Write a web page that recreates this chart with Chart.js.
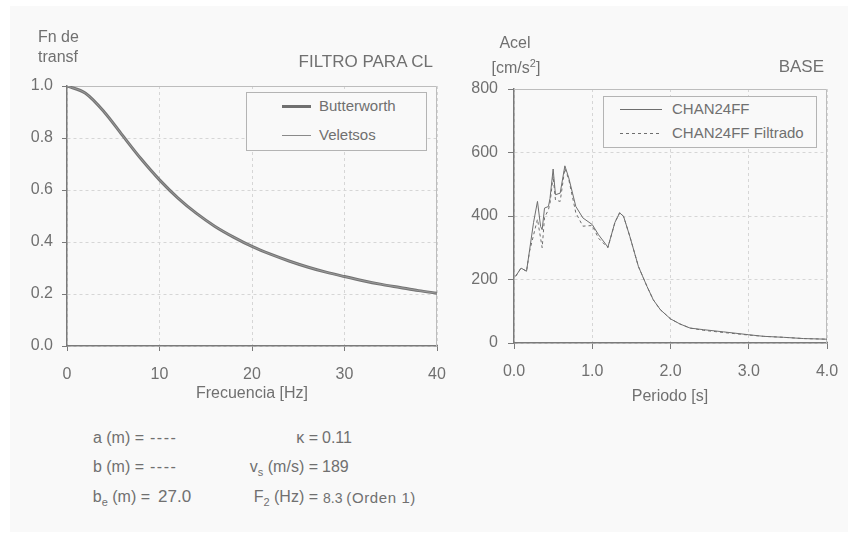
<!DOCTYPE html>
<html><head><meta charset="utf-8">
<script src="https://cdn.jsdelivr.net/npm/chart.js@4.4.1/dist/chart.umd.min.js"></script>
<style>
html,body{margin:0;padding:0;background:#fff;width:854px;height:540px;overflow:hidden;}
#panel{position:absolute;left:10px;top:6px;width:838px;height:526px;background:#f9f9f9;}
canvas{position:absolute;}
.t{position:absolute;white-space:nowrap;font-family:'Liberation Sans',Arial,sans-serif;font-size:16px;line-height:20px;color:#707070;}
.c{text-align:center;width:200px;}
.r{text-align:right;}
.leg{position:absolute;border:1px solid #b4b4b4;background:#f9f9f9;box-sizing:border-box;}
.smp{position:absolute;}
.lt{position:absolute;white-space:nowrap;font-family:'Liberation Sans',Arial,sans-serif;font-size:15px;line-height:20px;color:#707070;}
sub,sup{font-size:11px;line-height:0;}
</style></head>
<body>
<div id="panel"></div>
<canvas id="c1" width="460" height="420" style="left:0;top:0;width:460px;height:420px"></canvas>
<canvas id="c2" width="394" height="420" style="left:460px;top:0;width:394px;height:420px"></canvas>

<div class="t" style="left:38px;top:27px">Fn de</div>
<div class="t" style="left:38px;top:47px">transf</div>
<div class="t r" style="right:421px;top:52px;font-size:17px">FILTRO PARA CL</div>
<div class="t c" style="left:415px;top:33px">Acel</div>
<div class="t c" style="left:416px;top:58px">[cm/s<sup>2</sup>]</div>
<div class="t r" style="right:30px;top:57px;font-size:17px">BASE</div>
<div class="t c" style="left:152px;top:383px">Frecuencia [Hz]</div>
<div class="t c" style="left:570px;top:386px">Periodo [s]</div>

<div class="t r" style="right:710px;top:428px">a (m) =</div>
<div class="t" style="left:150px;top:428px;letter-spacing:1.5px">----</div>
<div class="t r" style="right:710px;top:457px">b (m) =</div>
<div class="t" style="left:150px;top:457px;letter-spacing:1.5px">----</div>
<div class="t r" style="right:704px;top:487px">b<sub>e</sub> (m) =</div>
<div class="t" style="left:158px;top:487px;font-size:17px">27.0</div>

<div class="t r" style="right:536px;top:428px">&#954; =</div>
<div class="t" style="left:322px;top:428px">0.11</div>
<div class="t r" style="right:536px;top:457px">v<sub>s</sub> (m/s) =</div>
<div class="t" style="left:322px;top:457px">189</div>
<div class="t r" style="right:536px;top:487px">F<sub>2</sub> (Hz) =</div>
<div class="t" style="left:323px;top:488px;font-size:14px">8.3 <span style="font-size:15px;letter-spacing:0.6px">(Orden 1)</span></div>

<div class="leg" style="left:246px;top:92px;width:181px;height:59px">
  <div class="smp" style="left:35px;top:12px;width:29px;height:3px;background:#707070"></div>
  <div class="lt" style="left:72px;top:3px">Butterworth</div>
  <div class="smp" style="left:35px;top:42px;width:29px;height:1px;background:#8a8a8a"></div>
  <div class="lt" style="left:72px;top:32px">Veletsos</div>
</div>
<div class="leg" style="left:603px;top:96px;width:214px;height:52px">
  <div class="smp" style="left:16px;top:12px;width:42px;height:1px;background:#6e6e6e"></div>
  <div class="lt" style="left:68px;top:2px">CHAN24FF</div>
  <div class="smp" style="left:16px;top:36px;width:42px;height:1px;background:repeating-linear-gradient(90deg,#6e6e6e 0 3px,transparent 3px 6px)"></div>
  <div class="lt" style="left:68px;top:26px">CHAN24FF Filtrado</div>
</div>

<script>
// ---- Data: transfer function (left chart)
const frequencies = [0,2,4,6,8,10,12,14,16,18,20,22,24,26,28,30,32,34,36,38,40];
const butterworth = [1.0,0.972,0.901,0.810,0.720,0.639,0.569,0.510,0.460,0.419,0.383,0.353,0.327,0.304,0.284,0.267,0.251,0.237,0.225,0.213,0.203];
const veletsos    = [1.0,0.972,0.901,0.810,0.720,0.639,0.569,0.510,0.460,0.419,0.383,0.353,0.327,0.304,0.284,0.267,0.251,0.237,0.225,0.213,0.203];

// ---- Data: response spectrum (right chart)
const periods  = [0.02,0.09,0.16,0.2,0.25,0.3,0.34,0.36,0.39,0.44,0.46,0.5,0.53,0.59,0.65,0.7,0.79,0.88,1.0,1.08,1.2,1.29,1.35,1.4,1.48,1.59,1.7,1.78,1.87,2.0,2.12,2.25,2.42,2.68,3.0,3.19,3.44,3.7,4.0];
const chan24ff = [210,236,226,294,380,446,367,357,425,430,455,548,467,472,558,520,430,394,373,341,302,380,410,399,336,241,178,136,105,76,60,47,42,35,26,21,18,14,12];
const chan24ffFiltrado = [210,236,226,290,340,390,330,300,395,420,440,525,450,446,550,515,410,368,370,330,300,380,410,399,336,241,178,136,105,76,60,47,40,33,25,21,18,14,12];

const FONT = "'Liberation Sans', Arial, sans-serif";
const TXT = '#707070';

const framePlugin = {
  id: 'frame',
  beforeDatasetsDraw(chart) {
    const {ctx, chartArea: a} = chart;
    ctx.save();
    ctx.strokeStyle = '#bdbdbd';
    ctx.lineWidth = 1;
    ctx.beginPath();
    ctx.moveTo(a.left, a.top + 0.5);
    ctx.lineTo(a.right - 0.5, a.top + 0.5);
    ctx.lineTo(a.right - 0.5, a.bottom);
    ctx.stroke();
    ctx.restore();
  }
};

function axis(min, max, step, fmt, tickLen, pad, fit) {
  return {
    type: 'linear', min, max,
    ticks: {stepSize: step, callback: fmt, color: TXT, font: {family: FONT, size: 16}, padding: pad, maxRotation: 0, autoSkip: false},
    grid: {color: '#d6d6d6', lineWidth: 1, tickColor: '#7a7a7a', tickLength: tickLen, drawTicks: true},
    border: {color: '#7a7a7a', width: 1.5, dash: [3, 3]},
    afterFit: fit
  };
}

new Chart(document.getElementById('c1'), {
  type: 'line',
  data: {
    datasets: [
      {label: 'Veletsos', data: frequencies.map((f, i) => ({x: f, y: veletsos[i]})), borderColor: '#9a9a9a', borderWidth: 1, pointRadius: 0, cubicInterpolationMode: 'monotone'},
      {label: 'Butterworth', data: frequencies.map((f, i) => ({x: f, y: butterworth[i]})), borderColor: '#747474', borderWidth: 3, pointRadius: 0, cubicInterpolationMode: 'monotone'}
    ]
  },
  options: {
    responsive: false, animation: false, devicePixelRatio: 1,
    layout: {padding: {left: 7, right: 23, top: 86, bottom: 14}},
    plugins: {legend: {display: false}, tooltip: {enabled: false}},
    scales: {
      x: axis(0, 40, 10, v => String(v), 5, 14, s => { s.height = 60; }),
      y: axis(0, 1, 0.2, v => v.toFixed(1), 5, 9, s => { s.width = 60; })
    }
  },
  plugins: [framePlugin]
});

new Chart(document.getElementById('c2'), {
  type: 'line',
  data: {
    datasets: [
      {label: 'CHAN24FF', data: periods.map((p, i) => ({x: p, y: chan24ff[i]})), borderColor: '#6e6e6e', borderWidth: 1, pointRadius: 0, tension: 0},
      {label: 'CHAN24FF Filtrado', data: periods.map((p, i) => ({x: p, y: chan24ffFiltrado[i]})), borderColor: '#6e6e6e', borderWidth: 1, borderDash: [3, 3], pointRadius: 0, tension: 0}
    ]
  },
  options: {
    responsive: false, animation: false, devicePixelRatio: 1,
    layout: {padding: {left: 4, right: 27, top: 89, bottom: 17}},
    plugins: {legend: {display: false}, tooltip: {enabled: false}},
    scales: {
      x: axis(0, 4, 1, v => v.toFixed(1), 6, 13, s => { s.height = 60; }),
      y: axis(0, 800, 200, v => String(v), 6, 10, s => { s.width = 50; })
    }
  },
  plugins: [framePlugin]
});
</script>
</body></html>
